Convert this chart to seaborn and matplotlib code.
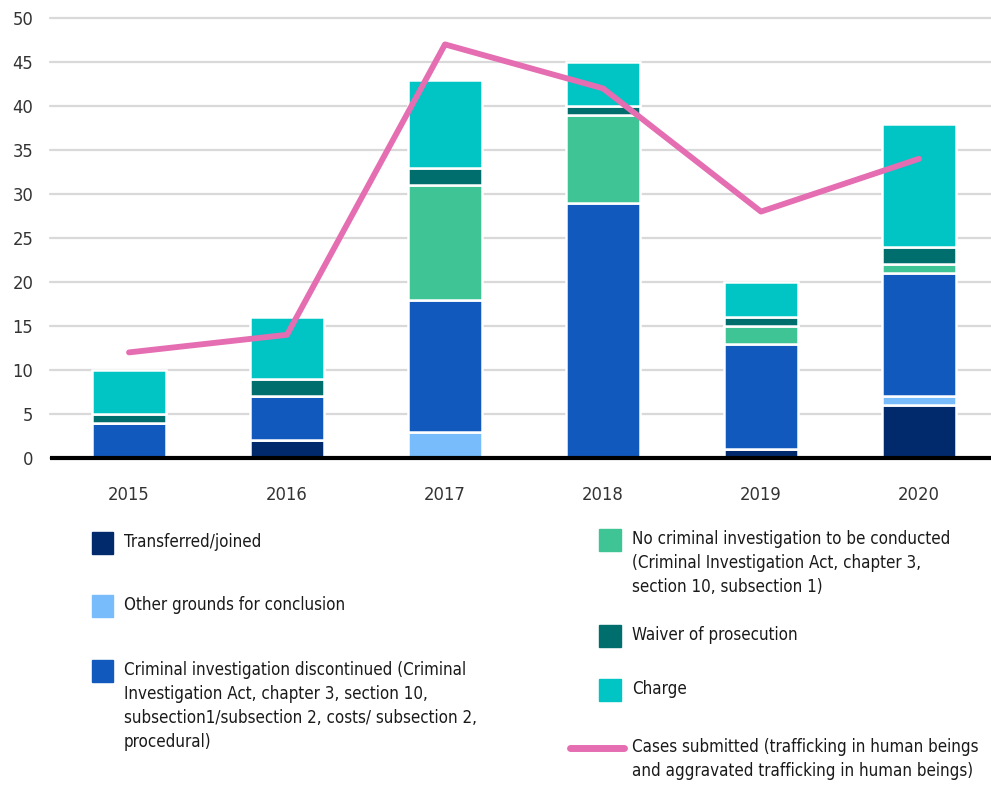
import matplotlib
matplotlib.use("Agg")
import matplotlib.pyplot as plt
import seaborn as sns
import numpy as np
from matplotlib.patches import Rectangle
from matplotlib.lines import Line2D

years = ["2015", "2016", "2017", "2018", "2019", "2020"]
transferred = [0, 2, 0, 0, 1, 6]
other_grounds = [0, 0, 3, 0, 0, 1]
discontinued = [4, 5, 15, 29, 12, 14]
no_investigation = [0, 0, 13, 10, 2, 1]
waiver = [1, 2, 2, 1, 1, 2]
charge = [5, 7, 10, 5, 4, 14]
cases_submitted = [12, 14, 47, 42, 28, 34]

series_labels = [
    "Transferred/joined",
    "Other grounds for conclusion",
    "Criminal investigation discontinued (Criminal\nInvestigation Act, chapter 3, section 10,\nsubsection1/subsection 2, costs/ subsection 2,\nprocedural)",
    "No criminal investigation to be conducted\n(Criminal Investigation Act, chapter 3,\nsection 10, subsection 1)",
    "Waiver of prosecution",
    "Charge",
]
line_label = "Cases submitted (trafficking in human beings\nand aggravated trafficking in human beings)"
colors = ["#002a6c", "#78bcfb", "#1259be", "#3ec495", "#006e6d", "#00c5c4"]
line_color = "#e56db1"

sns.set_theme(style="white")
plt.rcParams['font.family'] = ['DejaVu Sans']
plt.rcParams['font.stretch'] = 'condensed'

fig = plt.figure(figsize=(9.91, 7.85), dpi=100)
W, H = 991, 785
ax = fig.add_axes([50 / W, 1 - 458 / H, 1 - 50 / W, (458 - 18) / H])

# choose a font size so the longest legend line spans the reference width (~350 px)
renderer = fig.canvas.get_renderer()
probe = fig.text(0, 0, "Cases submitted (trafficking in human beings", fontsize=14,
                 fontstretch="condensed")
wpx = probe.get_window_extent(renderer).width
probe.remove()
fs = min(14 * 350.0 / wpx, 14)

series = [transferred, other_grounds, discontinued, no_investigation, waiver, charge]
bottom = np.zeros(len(years))
for vals, col in zip(series, colors):
    sns.barplot(x=years, y=vals, bottom=bottom.copy(), color=col, width=0.47,
                edgecolor="white", linewidth=1.8, ax=ax, zorder=2, saturation=1)
    bottom += np.array(vals)

sns.lineplot(x=years, y=cases_submitted, color=line_color, linewidth=4.2, ax=ax,
             zorder=4, solid_capstyle="round", sort=False)

ax.set_xlim(-0.5, 5.456)
ax.set_ylim(0, 50)
ax.set_yticks(range(0, 51, 5))
ax.yaxis.grid(True, color="#d9d9d9", linewidth=1.6, zorder=0)
for gl in ax.get_ygridlines():
    gl.set_clip_on(False)
ax.set_axisbelow(True)
for s in ["top", "right", "left"]:
    ax.spines[s].set_visible(False)
ax.spines["bottom"].set_color("black")
ax.spines["bottom"].set_linewidth(3)
ax.spines["bottom"].set_capstyle("butt")
ax.spines["bottom"].set_zorder(5)
ax.set_xlabel("")
ax.set_ylabel("")
ax.tick_params(axis="both", length=0, labelsize=fs * 1.08, colors="#333333")
ax.tick_params(axis="x", pad=20)
ax.tick_params(axis="y", pad=12)

def fx(x):
    return x / W

def fy(y):
    return 1 - y / H

txtc = "#1a1a1a"
lh = 24  # line height in px
ls = lh / (fs * 100 / 72)
off = 2
left_items = [(0, 543), (1, 606), (2, 671)]
right_items = [(3, 540), (4, 636), (5, 690)]
for idx, yc in left_items:
    fig.patches.append(Rectangle((fx(92), fy(yc + 11)), 21 / W, 22 / H,
                                 transform=fig.transFigure, color=colors[idx]))
    fig.text(fx(124), fy(yc - lh / 2 + off), series_labels[idx], fontsize=fs, color=txtc,
             va="top", ha="left", linespacing=ls, transform=fig.transFigure)
for idx, yc in right_items:
    fig.patches.append(Rectangle((fx(599), fy(yc + 11)), 22 / W, 22 / H,
                                 transform=fig.transFigure, color=colors[idx]))
    fig.text(fx(632), fy(yc - lh / 2 + off), series_labels[idx], fontsize=fs, color=txtc,
             va="top", ha="left", linespacing=ls, transform=fig.transFigure)
fig.lines.append(Line2D([fx(570), fx(624)], [fy(748), fy(748)], color=line_color,
                        linewidth=5, solid_capstyle="round", transform=fig.transFigure))
fig.text(fx(632), fy(748 - lh / 2 + off), line_label, fontsize=fs, color=txtc,
         va="top", ha="left", linespacing=ls, transform=fig.transFigure)

fig.savefig("out.png", dpi=100)
